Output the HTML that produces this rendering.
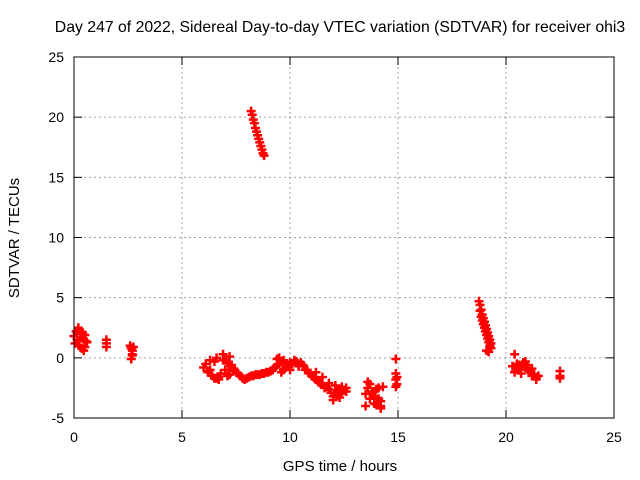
<!DOCTYPE html>
<html><head><meta charset="utf-8"><style>
body{margin:0;background:#fff}
svg{display:block;font-family:"Liberation Sans",sans-serif}
</style></head><body>
<svg id="chart" width="640" height="480" viewBox="0 0 640 480">
<rect width="640" height="480" fill="#fff"/>
<text x="340" y="32" font-size="15.8" text-anchor="middle">Day 247 of 2022, Sidereal Day-to-day VTEC variation (SDTVAR) for receiver ohi3</text>
<g id="grid"></g>
<g id="ticks"></g>
<g id="points"></g>
<rect x="74" y="57" width="540" height="361" fill="none" stroke="#000" stroke-width="1"/>
<text x="340" y="471" font-size="15" text-anchor="middle">GPS time / hours</text>
<text transform="translate(19,238) rotate(-90)" font-size="15" text-anchor="middle">SDTVAR / TECUs</text>
</svg>
<script>
const xTicks=[0,5,10,15,20,25];
const yTicks=[-5,0,5,10,15,20,25];
const hours=[0,0.1,0.2,0.3,0.4,0.5,0.6,0.05,0.15,0.25,0.35,0.45,0.55,0.2,0.4,0.5,0.3,
1.5,1.5,1.5,
2.6,2.65,2.7,2.75,2.7,2.65,2.7,
6.0,6.1,6.2,6.3,6.4,6.5,6.6,6.7,6.8,6.9,7.0,7.1,7.2,7.3,7.4,7.5,6.3,6.5,6.7,6.9,7.1,7.3,6.2,6.6,7.0,7.2,7.4,
7.6,7.7,7.8,7.9,8.0,8.1,8.2,8.3,8.4,8.5,8.6,8.7,8.8,8.9,9.0,9.1,9.2,9.3,9.4,9.5,9.6,9.7,9.8,9.9,10.0,10.1,10.2,10.3,10.4,10.5,10.6,10.7,9.4,9.5,9.6,9.7,9.8,10.0,10.2,10.4,
10.8,10.9,11.0,11.1,11.2,11.3,11.4,11.5,11.6,11.7,11.8,11.9,12.0,12.1,12.2,12.3,12.4,12.5,12.6,11.2,11.5,11.8,12.0,12.2,12.4,12.6,12.1,12.3,
13.5,13.6,13.7,13.8,13.9,14.0,14.1,14.2,14.3,13.6,13.8,14.0,14.2,13.7,13.9,14.1,13.5,14.2,13.9,
14.9,14.9,14.9,14.95,14.95,14.9,
8.2,8.25,8.3,8.35,8.4,8.45,8.5,8.55,8.6,8.65,8.7,8.75,8.8,
18.75,18.8,18.85,18.9,18.95,19.0,19.05,19.1,19.15,19.2,19.25,19.3,18.8,18.9,19.0,19.1,19.2,19.3,18.85,18.95,19.05,19.15,19.25,19.1,19.2,
20.3,20.4,20.5,20.6,20.7,20.8,20.9,21.0,21.1,21.2,21.3,21.4,21.5,20.4,20.6,20.8,21.0,21.2,21.4,20.5,20.9,21.1,
22.5,22.5,22.5];
const sdtvar=[1.8,2.2,2.4,2.0,1.6,1.9,1.3,1.2,1.5,1.0,0.8,0.6,1.4,2.5,2.1,0.9,1.7,
1.5,1.2,0.9,
1.0,0.8,0.6,0.9,0.2,-0.1,0.3,
-0.8,-0.5,-1.2,-0.2,-1.5,-1.7,0.0,-1.6,-1.3,0.3,-1.0,-0.4,0.1,-0.8,-0.9,-1.2,-1.0,-0.3,-1.8,-0.2,-1.5,-0.6,-1.1,-1.7,-0.2,-1.4,-1.0,
-1.3,-1.5,-1.7,-1.8,-1.7,-1.6,-1.5,-1.5,-1.4,-1.4,-1.4,-1.3,-1.3,-1.2,-1.2,-1.1,-1.0,-0.8,-0.1,-0.5,-0.3,-1.0,-0.5,-0.6,-0.4,-0.5,-0.3,-0.3,-0.6,-0.4,-0.6,-1.0,-0.6,0.0,-1.2,-0.2,-0.8,-1.0,-0.2,-0.7,
-1.0,-1.3,-1.5,-1.6,-1.8,-2.0,-2.1,-2.2,-2.5,-2.4,-2.6,-2.9,-3.2,-3.0,-2.7,-2.6,-2.8,-2.7,-2.8,-1.2,-1.6,-2.1,-3.5,-3.1,-2.4,-2.5,-2.3,-3.3,
-3.0,-2.5,-2.2,-2.8,-3.2,-2.6,-3.4,-3.6,-2.4,-2.0,-3.0,-3.9,-4.0,-3.4,-2.8,-2.5,-4.0,-4.2,-3.8,
-0.1,-1.3,-1.8,-1.6,-2.2,-2.4,
20.5,20.2,19.8,19.5,19.1,18.8,18.5,18.2,17.9,17.6,17.3,17.0,16.8,
4.7,4.4,4.0,3.6,3.3,3.0,2.7,2.4,2.1,1.8,1.5,1.2,3.9,3.1,2.5,1.9,1.3,0.8,3.4,2.8,2.2,1.6,1.0,0.6,0.5,
-0.7,0.3,-0.9,-0.6,-1.3,-0.7,-0.3,-0.6,-1.1,-0.9,-1.4,-1.6,-1.5,-1.2,-0.9,-0.4,-1.0,-1.5,-1.8,-0.5,-0.8,-1.1,
-1.1,-1.5,-1.7];
const X0=74,X1=614,Y0=418,Y1=57;
const xs=h=>X0+(h-0)/25*(X1-X0);
const ys=v=>Y0-(v+5)/30*(Y0-Y1);
const NS="http://www.w3.org/2000/svg";
const grid=document.getElementById('grid'),ticks=document.getElementById('ticks'),pts=document.getElementById('points');
function mk(tag,attrs,parent){const e=document.createElementNS(NS,tag);for(const k in attrs)e.setAttribute(k,attrs[k]);parent.appendChild(e);return e;}
xTicks.forEach(t=>{const x=xs(t);
 if(t>0&&t<25){const g=mk('line',{x1:x,x2:x,y1:Y1,y2:Y0,stroke:'#a0a0a0','stroke-dasharray':'2,3'},grid);
 
 }
 mk('line',{x1:x,x2:x,y1:Y0,y2:Y0-8,stroke:'#000'},ticks);mk('line',{x1:x,x2:x,y1:Y1,y2:Y1+8,stroke:'#000'},ticks);
 const tx=mk('text',{x:x,y:Y0+24,'font-size':14,'text-anchor':'middle'},ticks);tx.textContent=t;
 
 
});
yTicks.forEach(t=>{const y=ys(t);
 if(t>-5&&t<25){const g=mk('line',{x1:X0,x2:X1,y1:y,y2:y,stroke:'#a0a0a0','stroke-dasharray':'2,3'},grid);
 
 }
 mk('line',{x1:X0,x2:X0+8,y1:y,y2:y,stroke:'#000'},ticks);mk('line',{x1:X1,x2:X1-8,y1:y,y2:y,stroke:'#000'},ticks);
 const tx=mk('text',{x:X0-10,y:y+5,'font-size':14,'text-anchor':'end'},ticks);tx.textContent=t;
 
 
});
hours.forEach((h,i)=>{const x=xs(h),y=ys(sdtvar[i]);
 const p=mk('path',{d:`M${x-4.5},${y}H${x+4.5}M${x},${y-4.5}V${y+4.5}`,stroke:'#ff0000','stroke-width':2.5,fill:'none'},pts);
 
 
});
</script>
</body></html>
